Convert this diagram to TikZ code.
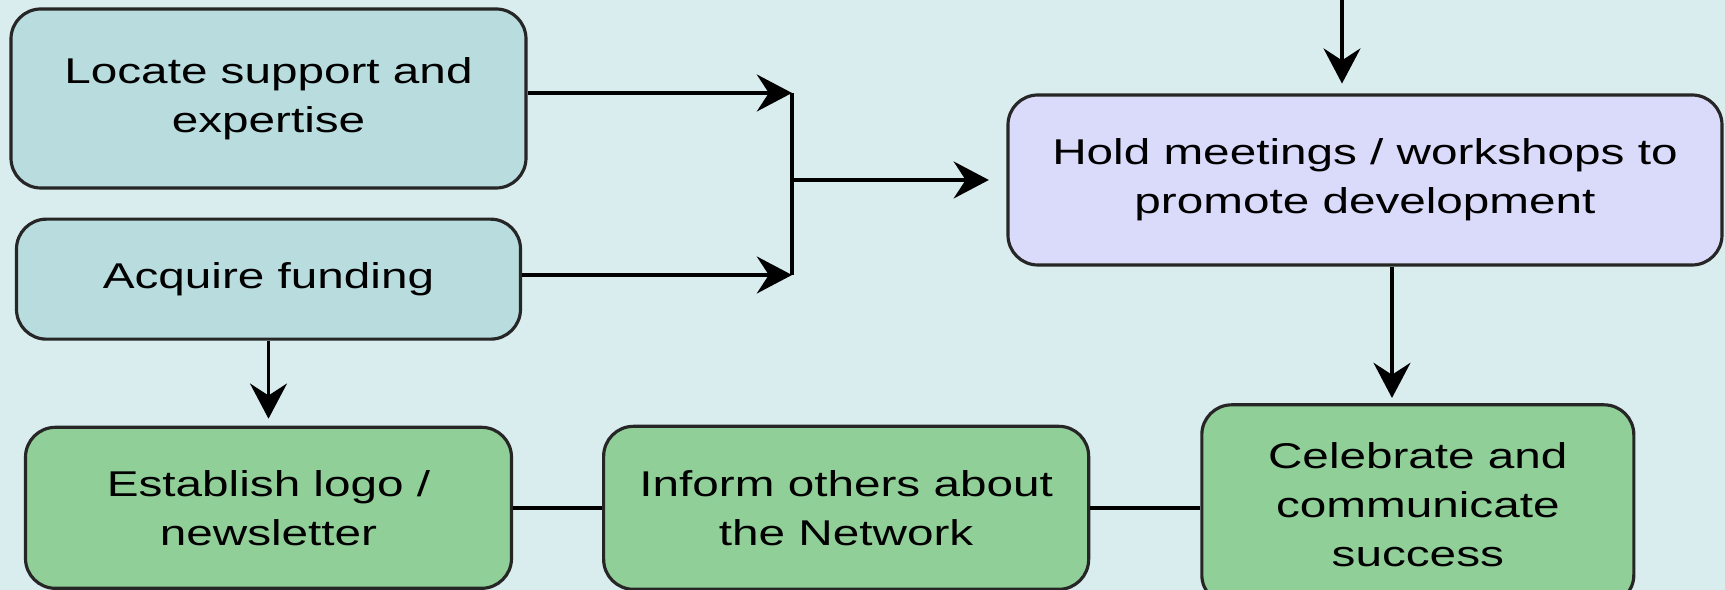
\documentclass[tikz,border=0pt]{standalone}
\usepackage{fontspec}
\setmainfont{Liberation Sans}[FakeStretch=1.33]
\usetikzlibrary{arrows.meta,positioning}

\definecolor{bgblue}{RGB}{217,236,238}
\definecolor{tealbox}{RGB}{185,220,223}
\definecolor{lilacbox}{RGB}{218,218,250}
\definecolor{greenbox}{RGB}{145,207,152}

\begin{document}
\begin{tikzpicture}[>={Stealth[length=10pt,width=10.5pt,inset=3.4pt]},
  line width=1.05pt,node distance=0.3cm,
  box/.style={draw=black!85,line width=0.9pt,rounded corners=8.5pt,
    align=center,inner sep=0pt,font=\fontsize{10.2}{14}\selectfont},
  teal/.style={box,fill=tealbox},
  lilac/.style={box,fill=lilacbox},
  green/.style={box,fill=greenbox}]

\useasboundingbox (0,0) rectangle (17.25,-5.9);
\clip (0,0) rectangle (17.25,-5.9);
\fill[bgblue] (0,0) rectangle (17.25,-5.9);

\node[teal,minimum width=5.15cm,minimum height=1.79cm] (locate) at (2.685,-0.985)
  {Locate support and\\expertise};
\node[teal,minimum width=5.04cm,minimum height=1.2cm] (acquire) [below=0.28cm of locate]
  {Acquire funding};
\node[green,minimum width=4.86cm,minimum height=1.61cm] (establish) [below=0.85cm of acquire]
  {Establish logo /\\newsletter};
\node[green,minimum width=4.85cm,minimum height=1.63cm] (inform) [right=0.89cm of establish]
  {Inform others about\\the Network};
\node[green,minimum width=4.32cm,minimum height=2cm] (celebrate) [right=1.1cm of inform,yshift=0.03cm]
  {Celebrate and\\communicate\\success};
\node[lilac,minimum width=7.14cm,minimum height=1.7cm] (hold) at (13.65,-1.8)
  {Hold meetings / workshops to\\promote development};

\coordinate (jtop) at (7.92,-0.93);
\coordinate (jbot) at (7.92,-2.75);
\coordinate (jmid) at (7.92,-1.8);
\coordinate (feed) at (13.42,0.1);

\draw[->] (locate.east |- jtop) -- (jtop);
\draw[->] (acquire.east |- jbot) -- (jbot);
\draw (jtop) -- (jbot);
\draw[->,shorten >=5pt] (jmid) -- (hold.west);
\draw[->,shorten >=2.8pt] (feed) -- (feed |- hold.north);
\draw[->,shorten >=1.5pt] ([xshift=0.27cm]hold.south) -- ([xshift=0.27cm]hold.south |- celebrate.north);
\draw[->,shorten >=2pt] (acquire.south) -- (acquire.south |- establish.north);
\draw (establish.east) -- (inform.west);
\draw (inform.east) -- (inform.east -| celebrate.west);

\end{tikzpicture}
\end{document}
